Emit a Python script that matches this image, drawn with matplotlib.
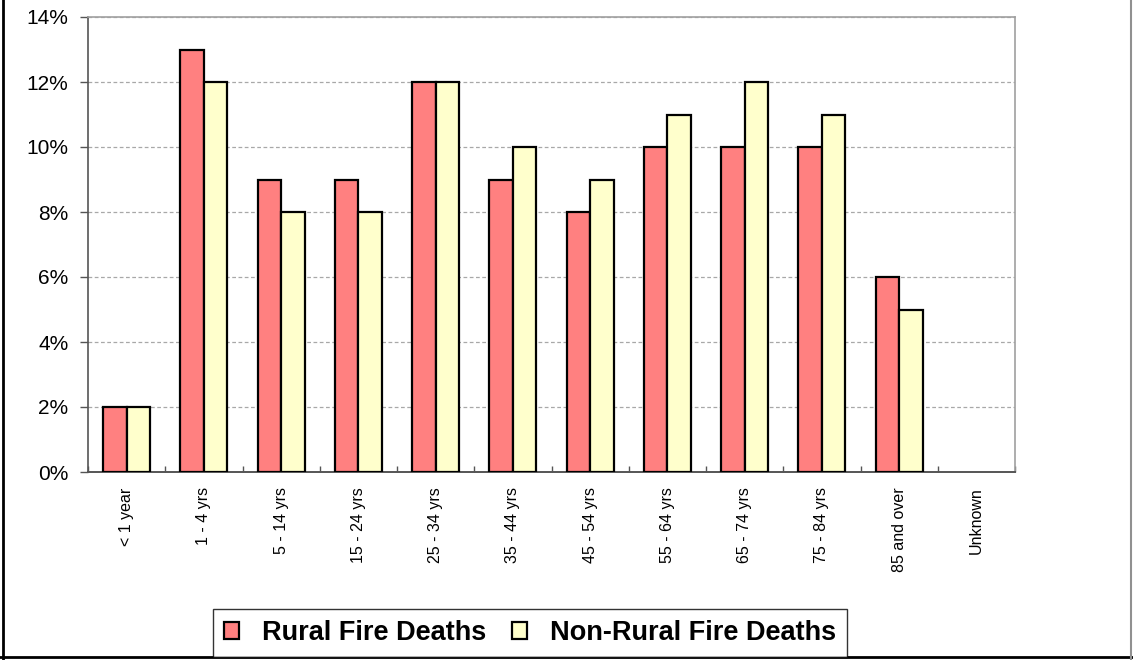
import numpy as np
import matplotlib
matplotlib.use("Agg")
import matplotlib.pyplot as plt
from matplotlib.lines import Line2D
from matplotlib.ticker import FuncFormatter

# Share of fire deaths by age group (%)
age_groups = ["< 1 year", "1 - 4 yrs", "5 - 14 yrs", "15 - 24 yrs", "25 - 34 yrs",
              "35 - 44 yrs", "45 - 54 yrs", "55 - 64 yrs", "65 - 74 yrs",
              "75 - 84 yrs", "85 and over", "Unknown"]
rural = [2, 13, 9, 9, 12, 9, 8, 10, 10, 10, 6, 0]
non_rural = [2, 12, 8, 8, 12, 10, 9, 11, 12, 11, 5, 0]
series_names = ["Rural Fire Deaths", "Non-Rural Fire Deaths"]
y_ticks = [0, 2, 4, 6, 8, 10, 12, 14]

plt.rcParams["font.family"] = ["Liberation Sans", "DejaVu Sans"]

W, H = 1133, 660
fig = plt.figure(figsize=(W / 100, H / 100), dpi=100)
ax = fig.add_axes([88 / W, 1 - 472 / H, (1015 - 88) / W, (472 - 17) / H])

x = np.arange(len(age_groups))
bw = 0.304
for offset, vals, color, name in ((-bw / 2, rural, "#FF8080", series_names[0]),
                                   (bw / 2, non_rural, "#FFFFCC", series_names[1])):
    bars = ax.bar(x + offset, vals, bw, color=color, edgecolor="black",
                  linewidth=1.6, label=name, zorder=3)
    for b, v in zip(bars, vals):
        if v == 0:
            b.set_visible(False)

ax.set_xlim(-0.5, len(age_groups) - 0.5)
ax.set_ylim(0, 14)
ax.set_yticks(y_ticks)
ax.yaxis.set_major_formatter(FuncFormatter(lambda v, p: f"{v:.0f}%"))
ax.tick_params(axis="y", direction="out", length=6, width=1, color="#555555",
               labelsize=15, pad=8)
ax.yaxis.grid(True, linestyle=(0, (3, 2)), color="#A8A8A8", linewidth=0.9, zorder=0)

# category labels under each group, boundary ticks pointing inward
ax.set_xticks(x)
ax.set_xticklabels(age_groups, rotation=90, fontsize=11.5, va="top", ha="center")
ax.tick_params(axis="x", which="major", length=0, pad=11)
ax.set_xticks(np.arange(-0.5, len(age_groups), 1), minor=True)
ax.tick_params(axis="x", which="minor", direction="in", length=4, width=1,
               color="#555555")

for side in ("top", "right"):
    ax.spines[side].set_color("#A0A0A0")
    ax.spines[side].set_linewidth(1.2)
ax.spines["left"].set_color("#555555")
ax.spines["bottom"].set_color("#555555")
ax.spines["left"].set_linewidth(1.2)
ax.spines["bottom"].set_linewidth(1.4)

leg = fig.legend(loc="center", bbox_to_anchor=(530 / W, 1 - 633 / H), ncol=2,
                 prop={"weight": "bold", "size": 19.5}, frameon=True, fancybox=False,
                 handlelength=0.55, handleheight=0.55, handletextpad=0.85,
                 columnspacing=0.95, borderpad=0.4, borderaxespad=0)
leg.get_frame().set_edgecolor("black")
leg.get_frame().set_linewidth(1.0)

# outer chart border
fig.add_artist(Line2D([3 / W, 3 / W], [0, 1], color="black", linewidth=2))
fig.add_artist(Line2D([0, 1], [1 - 657 / H, 1 - 657 / H], color="black", linewidth=2))
fig.add_artist(Line2D([1131 / W, 1131 / W], [0, 1], color="#909090", linewidth=1.5))

fig.savefig("out.png", dpi=100)
